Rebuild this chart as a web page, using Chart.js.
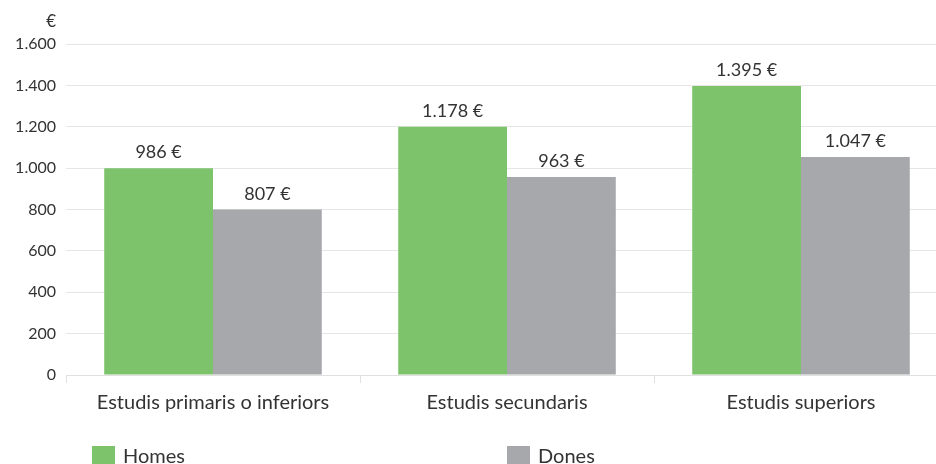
<!DOCTYPE html>
<html>
<head>
<meta charset="utf-8">
<script src="https://cdn.jsdelivr.net/npm/chart.js@4"></script>
<style>
	body { margin: 0; background: #fff; overflow: hidden; }
	#wrap { position: relative; width: 936px; height: 464px; overflow: hidden; }
	#box { position: absolute; left: 0; top: 0; width: 948px; height: 464px; }
	.leg { position: absolute; top: 446px; font: 20px Lato, sans-serif; color: #333; }
	.leg i { position: absolute; left: 0; top: 0; width: 23px; height: 23px; }
	.leg span { position: absolute; left: 31px; top: -3px; white-space: nowrap; }
</style>
</head>
<body>
<div id="wrap">
	<div id="box"><canvas id="chart"></canvas></div>
	<div class="leg" style="left:92px"><i style="background:#7dc36b"></i><span>Homes</span></div>
	<div class="leg" style="left:507px"><i style="background:#a7a8ac"></i><span>Dones</span></div>
</div>
<script>
const categories = ["Estudis primaris o inferiors", "Estudis secundaris", "Estudis superiors"];
// bar heights as drawn in the picture
const homes = [1000, 1200, 1397];
const dones = [800, 957, 1054];
// printed values above the bars
const homesLabels = [986, 1178, 1395];
const donesLabels = [807, 963, 1047];
const yTicks = [0, 200, 400, 600, 800, 1000, 1200, 1400, 1600];

const fmt = (n) => String(n).replace(/\B(?=(\d{3})+(?!\d))/g, ".");
const textColor = "#333";
const font = "Lato, sans-serif";

const valueLabels = {
	id: "valueLabels",
	afterDatasetsDraw(chart) {
		const ctx = chart.ctx;
		const printed = [homesLabels, donesLabels];
		ctx.save();
		ctx.font = "18px " + font;
		ctx.fillStyle = textColor;
		ctx.textAlign = "center";
		ctx.textBaseline = "alphabetic";
		chart.data.datasets.forEach((ds, i) => {
			chart.getDatasetMeta(i).data.forEach((bar, j) => {
				ctx.fillText(fmt(printed[i][j]) + " €", bar.x, bar.y - 10);
			});
		});
		// unit above the y axis
		ctx.font = "17px " + font;
		ctx.textAlign = "right";
		ctx.textBaseline = "middle";
		ctx.fillText("€", chart.scales.y.right - 10, 22);
		ctx.restore();
	},
};

new Chart(document.getElementById("chart"), {
	type: "bar",
	data: {
		labels: categories,
		datasets: [
			{ label: "Homes", data: homes, backgroundColor: "#7dc36b" },
			{ label: "Dones", data: dones, backgroundColor: "#a7a8ac" },
		],
	},
	plugins: [valueLabels],
	options: {
		responsive: true,
		maintainAspectRatio: false,
		animation: false,
		layout: { padding: { top: 44, right: 0, bottom: 0, left: 0 } },
		datasets: { bar: { barPercentage: 1, categoryPercentage: 0.74 } },
		plugins: { legend: { display: false }, tooltip: { enabled: false } },
		scales: {
			x: {
				afterFit: (s) => { s.height = 89; },
				grid: { drawOnChartArea: false, drawTicks: true, tickLength: 8, color: "#e0e0e0" },
				border: { color: "#e0e0e0" },
				ticks: { color: textColor, font: { family: font, size: 20 }, padding: 8, maxRotation: 0 },
			},
			y: {
				min: 0,
				max: 1600,
				afterFit: (s) => { s.width = 66; },
				afterBuildTicks: (s) => { s.ticks = yTicks.map((v) => ({ value: v })); },
				grid: { color: "#e6e6e6", drawTicks: false },
				border: { display: false },
				ticks: { color: textColor, font: { family: font, size: 16 }, padding: 10, callback: (v) => fmt(v) },
			},
		},
	},
});
</script>
</body>
</html>
